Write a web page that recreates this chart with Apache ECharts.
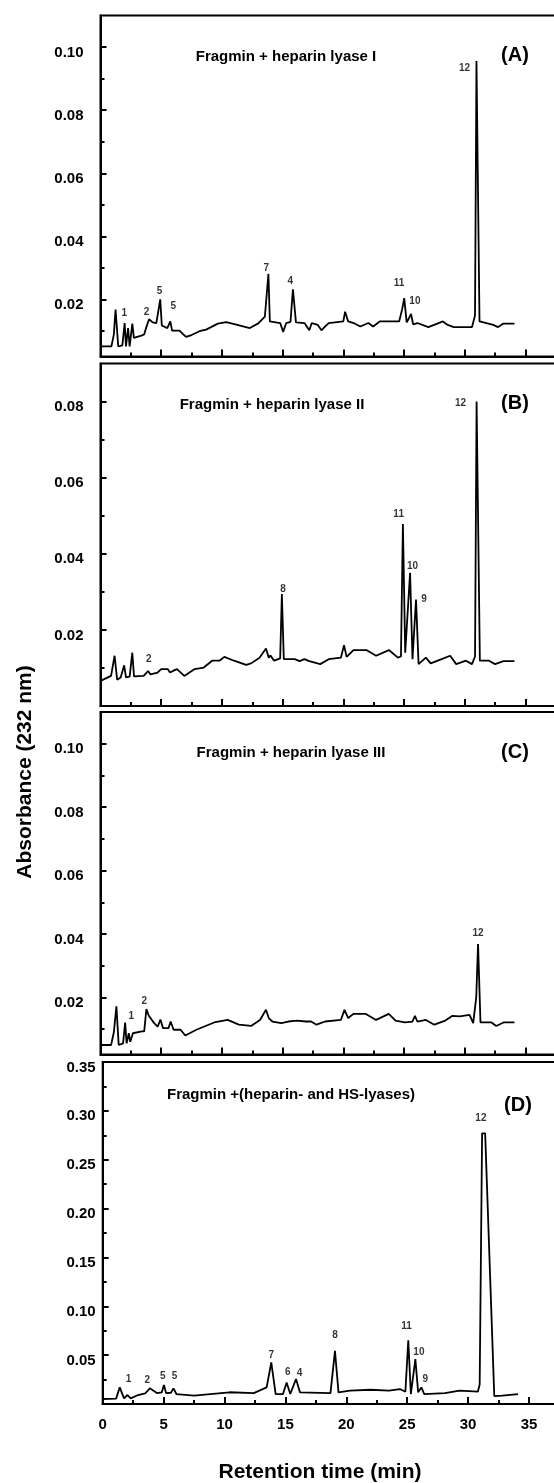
<!DOCTYPE html>
<html>
<head>
<meta charset="utf-8">
<script src="https://cdn.jsdelivr.net/npm/echarts@6/dist/echarts.min.js"></script>
<style>
html,body{margin:0;padding:0;background:#fff;overflow:hidden;width:554px;height:1483px;}
#chart{width:640px;height:1483px;}
</style>
</head>
<body>
<div id="chart"></div>
<script>
// ---- Data (retention time in min, absorbance at 232 nm) ----
const traceA = [[0,0.0052],[0.9,0.0052],[1.1,0.009],[1.24,0.0169],[1.46,0.0052],[1.8,0.0055],[1.99,0.0126],[2.1,0.0052],[2.27,0.011],[2.4,0.0052],[2.62,0.0124],[2.75,0.0079],[3.3,0.0085],[3.6,0.009],[3.75,0.011],[4.0,0.0138],[4.3,0.0128],[4.6,0.0126],[4.75,0.0124],[4.92,0.0201],[5.05,0.0118],[5.5,0.011],[5.75,0.0131],[5.9,0.0102],[6.5,0.0102],[7.04,0.0082],[7.5,0.0088],[8.15,0.0100],[8.7,0.0105],[9.67,0.0124],[10.36,0.0129],[11.19,0.0121],[12.3,0.011],[13.0,0.0125],[13.54,0.0146],[13.83,0.0282],[13.95,0.0131],[14.8,0.0126],[15.05,0.0098],[15.3,0.0126],[15.65,0.013],[15.85,0.0233],[16.1,0.0128],[16.8,0.0126],[17.2,0.0103],[17.4,0.0126],[17.9,0.0120],[18.2,0.0103],[18.45,0.0113],[18.8,0.0126],[20.0,0.0131],[20.15,0.0162],[20.4,0.0131],[20.85,0.0126],[21.4,0.0115],[22.06,0.0126],[22.46,0.0115],[23.0,0.0131],[24.6,0.0131],[24.85,0.017],[25.02,0.0205],[25.22,0.0128],[25.42,0.0142],[25.58,0.0155],[25.75,0.0122],[26.1,0.0126],[27.0,0.0113],[27.8,0.0125],[28.2,0.0131],[28.6,0.012],[29.1,0.0113],[30.6,0.0113],[30.85,0.015],[30.97,0.0956],[31.08,0.0956],[31.22,0.0131],[32.35,0.012],[32.75,0.0113],[33.15,0.0124],[34.1,0.0124]];
const traceB = [[0,0.0066],[0.87,0.0079],[1.16,0.0132],[1.37,0.0069],[1.66,0.0075],[1.95,0.0107],[2.1,0.0075],[2.4,0.0077],[2.62,0.014],[2.76,0.0078],[3.55,0.0079],[3.92,0.0092],[4.12,0.0083],[4.7,0.0088],[5.0,0.0097],[5.53,0.0097],[5.73,0.0088],[6.02,0.0093],[6.3,0.0097],[6.9,0.0079],[7.76,0.0097],[8.5,0.0101],[9.2,0.0119],[9.8,0.0119],[10.2,0.0129],[11.0,0.0119],[12.0,0.0108],[12.4,0.0112],[13.1,0.0127],[13.63,0.0151],[13.86,0.0127],[14.0,0.0133],[14.3,0.0119],[14.8,0.0125],[14.94,0.0294],[15.1,0.0123],[16.0,0.0123],[16.4,0.0118],[16.8,0.0123],[17.2,0.0118],[18.1,0.011],[18.8,0.0123],[19.8,0.0127],[20.06,0.016],[20.27,0.0129],[20.84,0.0147],[21.9,0.0147],[22.7,0.0132],[23.75,0.0147],[24.5,0.0127],[24.75,0.013],[24.91,0.0478],[25.1,0.014],[25.5,0.035],[25.7,0.0123],[25.99,0.028],[26.2,0.011],[26.8,0.0127],[27.2,0.0112],[28.1,0.0123],[28.8,0.0132],[29.3,0.011],[30.1,0.0119],[30.6,0.011],[30.85,0.013],[30.98,0.08],[31.12,0.08],[31.25,0.0119],[32.0,0.0119],[32.5,0.011],[33.2,0.0118],[34.1,0.0118]];
const traceC = [[0,0.005],[0.87,0.005],[1.1,0.009],[1.31,0.0172],[1.5,0.005],[1.86,0.0055],[2.03,0.0121],[2.15,0.0055],[2.33,0.0087],[2.45,0.006],[2.67,0.0087],[3.4,0.0093],[3.6,0.0093],[3.78,0.0163],[3.98,0.0142],[4.42,0.0119],[4.71,0.0108],[4.94,0.013],[5.15,0.0103],[5.6,0.0103],[5.78,0.0124],[6.02,0.0098],[6.6,0.0098],[6.98,0.008],[7.9,0.0098],[9.36,0.0121],[10.47,0.0129],[11.4,0.0114],[12.4,0.011],[13.14,0.0129],[13.63,0.0161],[13.86,0.0135],[14.16,0.0124],[14.9,0.0119],[15.47,0.0124],[16.2,0.0127],[16.9,0.0124],[17.35,0.0124],[17.8,0.0114],[18.5,0.0124],[19.8,0.0129],[20.1,0.0161],[20.4,0.0135],[20.84,0.0148],[21.86,0.0148],[22.7,0.0129],[23.75,0.0148],[24.3,0.0127],[25.06,0.0121],[25.7,0.0124],[25.9,0.0142],[26.1,0.0124],[26.8,0.0129],[27.5,0.0114],[28.4,0.0127],[29.0,0.0142],[29.6,0.014],[30.4,0.0145],[30.7,0.0119],[30.95,0.02],[31.1,0.0368],[31.3,0.0121],[32.2,0.0121],[32.6,0.011],[33.2,0.0121],[34.1,0.0121]];
const traceD = [[0,0.0051],[1.1,0.0055],[1.4,0.017],[1.75,0.0058],[2.03,0.0092],[2.3,0.0058],[2.9,0.0092],[3.5,0.011],[3.87,0.016],[4.45,0.0112],[4.85,0.012],[5.03,0.0194],[5.2,0.0112],[5.6,0.0115],[5.81,0.016],[6.05,0.0102],[7.5,0.0085],[10.4,0.012],[12.4,0.0112],[13.46,0.017],[13.84,0.0425],[14.2,0.0102],[14.8,0.0102],[15.1,0.0221],[15.4,0.0102],[15.87,0.0255],[16.2,0.0119],[18.7,0.0112],[19.07,0.0544],[19.36,0.0119],[20.3,0.0136],[22.0,0.0146],[23.5,0.0136],[24.4,0.0153],[24.85,0.0126],[25.09,0.0653],[25.3,0.0102],[25.67,0.046],[25.9,0.0119],[26.16,0.017],[26.4,0.0102],[28.1,0.0112],[29.3,0.0136],[30.8,0.0126],[30.95,0.02],[31.15,0.277],[31.4,0.277],[32.15,0.008],[32.8,0.0085],[34.1,0.0102]];

// peak labels: [time, absorbance, text]
const peaksA = [[1.95,0.0156,'1'],[3.79,0.0161,'2'],[4.87,0.0226,'5'],[6.0,0.0179,'5'],[13.66,0.030,'7'],[15.63,0.0258,'4'],[24.6,0.0251,'11'],[25.9,0.0195,'10'],[29.98,0.0932,'12']];
const peaksB = [[3.98,0.0123,'2'],[15.03,0.0307,'8'],[24.56,0.0504,'11'],[25.7,0.0366,'10'],[26.66,0.0281,'9'],[29.65,0.0796,'12']];
const peaksC = [[2.53,0.014,'1'],[3.6,0.0187,'2'],[31.1,0.0403,'12']];
const peaksD = [[2.12,0.0255,'1'],[3.66,0.0248,'2'],[4.94,0.0289,'5'],[5.9,0.0289,'5'],[13.84,0.05,'7'],[15.2,0.033,'6'],[16.16,0.0313,'4'],[19.07,0.0704,'8'],[24.94,0.0792,'11'],[25.96,0.0527,'10'],[26.48,0.0255,'9'],[31.05,0.292,'12']];

// axes
const xMajor = [0,5,10,15,20,25,30,35];
const xMinor = [2.5,7.5,12.5,17.5,22.5,27.5,32.5,37.5];
const yMajorA = [0.02,0.04,0.06,0.08,0.10];
const yMinorA = [0.01,0.03,0.05,0.07,0.09];
const yMajorB = [0.02,0.04,0.06,0.08];
const yMinorB = [0.01,0.03,0.05,0.07];
const yMajorD = [0.05,0.10,0.15,0.20,0.25,0.30,0.35];
const yMinorD = [0.025,0.075,0.125,0.175,0.225,0.275,0.325];
const yRangeA = [0.002,0.11], yRangeB = [0,0.09], yRangeC = [0.002,0.11], yRangeD = [0,0.35];

const titles = ['Fragmin + heparin lyase I','Fragmin + heparin lyase II','Fragmin + heparin lyase III','Fragmin +(heparin- and HS-lyases)'];
const panelTags = ['(A)','(B)','(C)','(D)'];
const xTitle = 'Retention time (min)';
const yTitle = 'Absorbance (232 nm)';

// ---- layout ----
const FONT = '"Liberation Sans", Arial, sans-serif';
const grids = [
  {left:100.5, top:15.5, width:485.6, height:341},
  {left:100.5, top:363.5, width:485.6, height:342.5},
  {left:100.5, top:712, width:485.6, height:342.5},
  {left:102.7, top:1062, width:487.2, height:342}
];
const panels = [
  {trace:traceA, peaks:peaksA, yr:yRangeA, maj:yMajorA, min:yMinorA, lm:17},
  {trace:traceB, peaks:peaksB, yr:yRangeB, maj:yMajorB, min:yMinorB, lm:17},
  {trace:traceC, peaks:peaksC, yr:yRangeC, maj:yMajorA, min:yMinorA, lm:17},
  {trace:traceD, peaks:peaksD, yr:yRangeD, maj:yMajorD, min:yMinorD, lm:7}
];

const xAxes = [], yAxes = [], series = [];
panels.forEach((p, g) => {
  const isLast = g === 3;
  xAxes.push({type:'value', gridIndex:g, min:0, max:40, position:'bottom',
    axisLine:{show:true, lineStyle:{color:'#000', width:2}},
    axisTick:{show:true, inside:true, length:7, lineStyle:{color:'#000', width:2}, customValues:xMajor},
    axisLabel:{show:isLast, customValues:xMajor, margin:13, color:'#000', fontFamily:FONT, fontWeight:'bold', fontSize:15, formatter:v=>String(v)},
    splitLine:{show:false}});
  xAxes.push({type:'value', gridIndex:g, min:0, max:40, position:'bottom',
    axisLine:{show:false},
    axisTick:{show:true, inside:true, length:4, lineStyle:{color:'#000', width:2}, customValues:xMinor},
    axisLabel:{show:false}, splitLine:{show:false}});
  yAxes.push({type:'value', gridIndex:g, min:p.yr[0], max:p.yr[1], position:'left',
    axisLine:{show:true, lineStyle:{color:'#000', width:2}},
    axisTick:{show:true, inside:true, length:6, lineStyle:{color:'#000', width:2}, customValues:p.maj},
    axisLabel:{show:true, customValues:p.maj, margin:p.lm, color:'#000', fontFamily:FONT, fontWeight:'bold', fontSize:15,
      verticalAlign:'top', lineHeight:11, formatter:v=>v.toFixed(2)},
    splitLine:{show:false}});
  yAxes.push({type:'value', gridIndex:g, min:p.yr[0], max:p.yr[1], position:'left',
    axisLine:{show:false},
    axisTick:{show:true, inside:true, length:4, lineStyle:{color:'#000', width:2}, customValues:p.min},
    axisLabel:{show:false}, splitLine:{show:false}});
  series.push({type:'line', xAxisIndex:2*g, yAxisIndex:2*g, data:p.trace, showSymbol:false, symbol:'none',
    lineStyle:{color:'#000', width:1.8}, silent:true, z:3});
  series.push({type:'scatter', xAxisIndex:2*g, yAxisIndex:2*g, data:p.peaks, symbolSize:1,
    itemStyle:{color:'rgba(0,0,0,0)'}, silent:true,
    label:{show:true, position:'inside', formatter:q=>q.data[2], color:'#000', fontFamily:FONT, fontWeight:'bold', fontSize:10}});
});

const titlePos = [[286,57],[272,405],[291,753],[291,1095]];
const tagPos = [[515,55],[515,403],[515,752],[518,1105]];
const graphics = [];
titles.forEach((t,i)=>{
  graphics.push({type:'text', x:titlePos[i][0], y:titlePos[i][1], style:{text:t, fill:'#000', font:'bold 15px '+FONT, textAlign:'center', textVerticalAlign:'middle'}});
  graphics.push({type:'text', x:tagPos[i][0], y:tagPos[i][1], style:{text:panelTags[i], fill:'#000', font:'bold 20px '+FONT, textAlign:'center', textVerticalAlign:'middle'}});
});
graphics.push({type:'text', x:320, y:1472, style:{text:xTitle, fill:'#000', font:'bold 21px '+FONT, textAlign:'center', textVerticalAlign:'middle'}});
graphics.push({type:'text', x:25, y:772, rotation:Math.PI/2, style:{text:yTitle, fill:'#000', font:'bold 21px '+FONT, textAlign:'center', textVerticalAlign:'middle'}});

const chart = echarts.init(document.getElementById('chart'), null, {renderer:'canvas'});
chart.setOption({
  animation:false,
  backgroundColor:'#fff',
  grid: grids.map(gr => Object.assign({show:true, borderColor:'#000', borderWidth:2, backgroundColor:'transparent', containLabel:false}, gr)),
  xAxis:xAxes,
  yAxis:yAxes,
  series:series,
  graphic:graphics
});
</script>
</body>
</html>
